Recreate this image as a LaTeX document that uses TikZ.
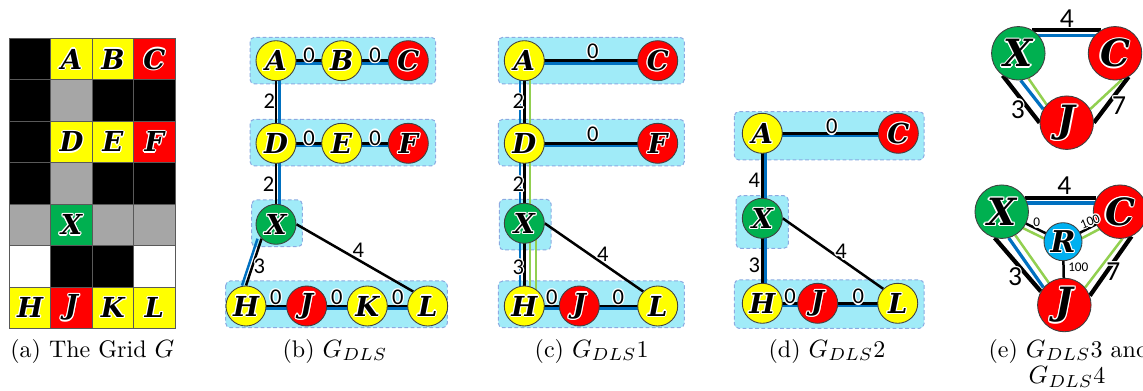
\documentclass[tikz,border=0pt]{standalone}
\usepackage{fontspec}
\newfontfamily\lf{DejaVu Serif}
\newfontfamily\nf{Carlito}
\definecolor{cy}{RGB}{160,235,248}
\definecolor{cyb}{RGB}{140,170,225}
\definecolor{bl}{RGB}{0,112,192}
\definecolor{gr}{RGB}{146,208,80}
\definecolor{ng}{RGB}{0,176,80}
\definecolor{ny}{RGB}{255,255,0}
\definecolor{nr}{RGB}{255,0,0}
\definecolor{nb}{RGB}{0,176,240}
\definecolor{cg}{RGB}{166,166,166}
\pgfdeclarelayer{bg}\pgfdeclarelayer{ed}\pgfsetlayers{bg,ed,main}
% white outline behind a piece of text
\newlength\hw \setlength\hw{0.5pt}
\newcommand\halo[1]{{\setbox0\hbox{#1}%
 \rlap{\color{white}\kern\hw\copy0}%
 \rlap{\color{white}\kern-\hw\copy0}%
 \rlap{\color{white}\raise\hw\copy0}%
 \rlap{\color{white}\lower\hw\copy0}%
 \rlap{\color{white}\kern.7\hw\raise.7\hw\copy0}%
 \rlap{\color{white}\kern-.7\hw\raise.7\hw\copy0}%
 \rlap{\color{white}\kern.7\hw\lower.7\hw\copy0}%
 \rlap{\color{white}\kern-.7\hw\lower.7\hw\copy0}%
 \box0}}
\begin{document}
\begin{tikzpicture}[x=0.4pt,y=-0.4pt,
  lfont/.style={font=\lf\bfseries\itshape\fontsize{#1}{#1}\selectfont},
  vtx/.style={circle, draw=black!75, line width=0.35pt, minimum size=16pt, inner sep=0pt, lfont=11},
  bigv/.style={minimum size=21.4pt, lfont=15},
  midv/.style={minimum size=15.2pt, lfont=12},
  gl/.style={inner sep=0pt, lfont=11},
  ek/.style={line width=1pt, black},
  eb/.style={line width=1pt, bl},
  eg/.style={line width=0.8pt, gr},
  wl/.style={inner sep=0pt, font=\nf\fontsize{9}{9}\selectfont},
  wlb/.style={inner sep=0pt, font=\nf\fontsize{11}{11}\selectfont},
  wls/.style={inner sep=0pt, font=\nf\fontsize{5.3}{5.3}\selectfont},
  grp/.style={fill=cy, draw=cyb, dash pattern=on 1.5pt off 1pt, line width=0.4pt, rounded corners=1.8pt},
  captxt/.style={inner sep=0pt, anchor=base, font=\fontsize{9.6}{10.7}\selectfont}]
\useasboundingbox (0,0) rectangle (1143,391);

% ---------- (a) the grid ----------
\foreach \r/\c/\col in {0/0/black,0/1/ny,0/2/ny,0/3/nr, 1/0/black,1/1/cg,1/2/black,1/3/black,
  2/0/black,2/1/ny,2/2/ny,2/3/nr, 3/0/black,3/1/cg,3/2/black,3/3/black,
  4/0/cg,4/1/ng,4/2/cg,4/3/cg, 5/0/white,5/1/black,5/2/black,5/3/white,
  6/0/ny,6/1/nr,6/2/ny,6/3/ny}
  \filldraw[fill=\col, draw=black!65, line width=0.3pt]
    ({9.3+\c*41.43},{38.3+\r*41.43}) rectangle ++(41.43,41.43);
\foreach \r/\c/\t in {0/1/A,0/2/B,0/3/C,2/1/D,2/2/E,2/3/F,4/1/X,6/0/H,6/1/J,6/2/K,6/3/L}
  \node[gl] (g\t) at ({9.3+(\c+0.5)*41.43},{38.3+(\r+0.5)*41.43}) {\halo{\t}};

% ---------- (b) G_DLS ----------
\begin{pgfonlayer}{bg}
  \draw[grp] (250,37.3) rectangle (435.7,84);
  \draw[grp] (250,119.3) rectangle (435.7,166);
  \draw[grp] (251.7,200) rectangle (302.3,246.7);
  \draw[grp] (225.7,281) rectangle (447.3,327.7);
\end{pgfonlayer}
\node[vtx, fill=ny] (bA) at (276,60.7) {\halo{A}};
\node[vtx, fill=ny] (bB) at (341.7,60.7) {\halo{B}};
\node[vtx, fill=nr] (bC) at (408.3,60.7) {\halo{C}};
\node[vtx, fill=ny] (bD) at (276,143.3) {\halo{D}};
\node[vtx, fill=ny] (bE) at (341.7,143.3) {\halo{E}};
\node[vtx, fill=nr] (bF) at (408.3,143.3) {\halo{F}};
\node[vtx, fill=ng] (bX) at (276,224.3) {\halo{X}};
\node[vtx, fill=ny] (bH) at (246,306) {\halo{H}};
\node[vtx, fill=nr] (bJ) at (306.7,306) {\halo{J}};
\node[vtx, fill=ny] (bK) at (367.3,306) {\halo{K}};
\node[vtx, fill=ny] (bL) at (427.7,306) {\halo{L}};
\begin{pgfonlayer}{ed}
  \foreach \a/\b in {bA/bB,bB/bC,bD/bE,bE/bF,bH/bJ,bJ/bK,bK/bL}{
    \draw[eb, transform canvas={yshift=-1.05pt}] (\a.center) -- (\b.center);
    \draw[ek] (\a.center) -- (\b.center);}
  \foreach \a/\b in {bA/bD,bD/bX}{
    \draw[eb, transform canvas={xshift=1.3pt}] (\a.center) -- (\b.center);
    \draw[ek] (\a.center) -- (\b.center);}
  \draw[eb, transform canvas={xshift=-1.6pt}] (bX.225) -- (bH.north);
  \draw[ek] (bX.225) -- (bH.north);
  \draw[ek] (bX.east) -- (bL.135);
\end{pgfonlayer}
\node[wl] (b1) at (309,55) {\halo{0}};
\node[wl] (b2) at (375,55) {\halo{0}};
\node[wl] (b3) at (309,138) {\halo{0}};
\node[wl] (b4) at (375,138) {\halo{0}};
\node[wl] (b5) at (275.7,297.3) {\halo{0}};
\node[wl] (b6) at (336.7,297.3) {\halo{0}};
\node[wl] (b7) at (397.7,297.3) {\halo{0}};
\node[wl] (b8) at (269.3,101.7) {\halo{2}};
\node[wl] (b9) at (268.5,184.5) {\halo{2}};
\node[wl] (b10) at (259.3,266) {\halo{3}};
\node[wl] (b11) at (358.3,250) {\halo{4}};

% ---------- (c) G_DLS1 ----------
\begin{pgfonlayer}{bg}
  \draw[grp] (498.3,37.3) rectangle (684.3,84);
  \draw[grp] (498.3,119.3) rectangle (684.3,166);
  \draw[grp] (499.3,199.3) rectangle (551,250);
  \draw[grp] (498.3,281) rectangle (684.3,327.7);
\end{pgfonlayer}
\node[vtx, fill=ny] (cA) at (524.3,60.7) {\halo{A}};
\node[vtx, fill=nr] (cC) at (657.7,60.7) {\halo{C}};
\node[vtx, fill=ny] (cD) at (524.3,143.3) {\halo{D}};
\node[vtx, fill=nr] (cF) at (657.7,143.3) {\halo{F}};
\node[vtx, fill=ng] (cX) at (524.3,223.3) {\halo{X}};
\node[vtx, fill=ny] (cH) at (524.3,306) {\halo{H}};
\node[vtx, fill=nr] (cJ) at (579.3,306) {\halo{J}};
\node[vtx, fill=ny] (cL) at (657.7,306) {\halo{L}};
\begin{pgfonlayer}{ed}
  \foreach \a/\b in {cA/cC,cD/cF,cH/cJ,cJ/cL}{
    \draw[eb, transform canvas={yshift=-1.05pt}] (\a.center) -- (\b.center);
    \draw[ek] (\a.center) -- (\b.center);}
  \foreach \a/\b in {cA/cD,cD/cX,cX/cH}{
    \draw[eb, transform canvas={xshift=-1.7pt}] (\a.center) -- (\b.center);
    \draw[eg, transform canvas={xshift=2.4pt}] (\a.center) -- (\b.center);
    \draw[ek] (\a.center) -- (\b.center);}
  \draw[eg, transform canvas={xshift=4.6pt}] (cX.center) -- (cH.center);
  \draw[ek] (cX.east) -- (cL.135);
\end{pgfonlayer}
\node[wl] (c1) at (592.7,51.7) {\halo{0}};
\node[wl] (c2) at (592.7,133.8) {\halo{0}};
\node[wl] (c3) at (551.7,297.3) {\halo{0}};
\node[wl] (c4) at (618.3,297.3) {\halo{0}};
\node[wl] (c5) at (518.3,101.7) {\halo{2}};
\node[wl] (c6) at (518.3,184) {\halo{2}};
\node[wl] (c7) at (518.3,267.3) {\halo{3}};
\node[wl] (c8) at (602.7,254) {\halo{4}};

% ---------- (d) G_DLS2 ----------
\begin{pgfonlayer}{bg}
  \draw[grp] (734.3,111.7) rectangle (924,160);
  \draw[grp] (736,195.7) rectangle (788.3,248.3);
  \draw[grp] (734.3,280) rectangle (924,328.3);
\end{pgfonlayer}
\node[vtx, fill=ny] (dA) at (762.3,133.3) {\halo{A}};
\node[vtx, fill=nr] (dC) at (898.3,133.3) {\halo{C}};
\node[vtx, fill=ng] (dX) at (762.3,218.3) {\halo{X}};
\node[vtx, fill=ny] (dH) at (762.3,303.3) {\halo{H}};
\node[vtx, fill=nr] (dJ) at (817.7,303.3) {\halo{J}};
\node[vtx, fill=ny] (dL) at (897.7,303.3) {\halo{L}};
\begin{pgfonlayer}{ed}
  \foreach \a/\b in {dA/dC,dH/dJ,dJ/dL}{
    \draw[eb, transform canvas={yshift=-1.05pt}] (\a.center) -- (\b.center);
    \draw[ek] (\a.center) -- (\b.center);}
  \foreach \a/\b in {dA/dX,dX/dH}{
    \draw[eb, transform canvas={xshift=1.3pt}] (\a.center) -- (\b.center);
    \draw[ek] (\a.center) -- (\b.center);}
  \draw[ek] (dX.east) -- (dL.135);
\end{pgfonlayer}
\node[wl] (d1) at (831.7,126.7) {\halo{0}};
\node[wl] (d2) at (790,296.7) {\halo{0}};
\node[wl] (d3) at (858.3,296.7) {\halo{0}};
\node[wl] (d4) at (754.3,180) {\halo{4}};
\node[wl] (d5) at (754.3,265) {\halo{3}};
\node[wl] (d6) at (841,251.7) {\halo{4}};

% ---------- (e) G_DLS3 ----------
\node[vtx, bigv, fill=ng] (eX) at (1018.3,53.3) {\halo{X}};
\node[vtx, bigv, fill=nr] (eC) at (1115,53.3) {\halo{C}};
\node[vtx, bigv, fill=nr] (eJ) at (1066.7,122.7) {\halo{J}};
\begin{pgfonlayer}{ed}
  \draw[eb, line width=1.3pt, transform canvas={yshift=-2.3pt}] (eX.60) -- (eC.120);
  \draw[ek, line width=1.7pt] (eX.60) -- (eC.120);
  \draw[ek, line width=1.7pt] (eX.235) -- (eJ.180);
  \draw[eb, line width=1.3pt] (eX.275) -- (eJ.150);
  \draw[eg, line width=1pt] (eX.292) -- (eJ.138);
  \draw[ek, line width=1.7pt] (eC.300) -- (eJ.0);
  \draw[eg, line width=1pt] (eC.285) -- (eJ.30);
\end{pgfonlayer}
\node[wlb] (e1) at (1066.7,18.3) {\halo{4}};
\node[wlb] (e2) at (1017.7,109.3) {\halo{3}};
\node[wlb] (e3) at (1119,106) {\halo{7}};

% ---------- (e) G_DLS4 ----------
\node[vtx, bigv, fill=ng] (fX) at (1001.7,211.7) {\halo{X}};
\node[vtx, bigv, fill=nr] (fC) at (1120,211.7) {\halo{C}};
\node[vtx, midv, fill=nb] (fR) at (1063,241.7) {\halo{R}};
\node[vtx, bigv, fill=nr] (fJ) at (1064.3,305) {\halo{J}};
\begin{pgfonlayer}{ed}
  \draw[eb, line width=1.3pt, transform canvas={yshift=-2pt}] (fX.30) -- (fC.150);
  \draw[ek, line width=1.7pt] (fX.30) -- (fC.150);
  \draw[eg, line width=1pt, transform canvas={yshift=-2.4pt}] (fX.center) -- (fR.center);
  \draw[ek] (fX.center) -- (fR.center);
  \draw[eg, line width=1pt, transform canvas={yshift=-2.6pt}] (fR.center) -- (fC.center);
  \draw[ek] (fR.center) -- (fC.center);
  \draw[ek] (fR.center) -- (fJ.center);
  \draw[ek, line width=1.7pt] (fX.255) -- (fJ.150);
  \draw[eb, line width=1.3pt] (fX.285) -- (fJ.140);
  \draw[eg, line width=1pt] (fX.300) -- (fJ.125);
  \draw[ek, line width=1.7pt] (fC.295) -- (fJ.20);
  \draw[eg, line width=1pt] (fC.275) -- (fJ.40);
\end{pgfonlayer}
\node[wlb] (f1) at (1064.3,186) {\halo{4}};
\node[wlb] (f2) at (1015,276.7) {\halo{3}};
\node[wlb] (f3) at (1113.3,271.7) {\halo{7}};
\node[wls] (f4) at (1036.7,222.7) {\halo{0}};
\node[wls, rotate=22] (f5) at (1090,221.7) {\halo{100}};
\node[wls] (f6) at (1078.3,267.3) {\halo{100}};

% ---------- captions ----------
\node[captxt] (ca) at (92.3,357) {(a) The Grid $G$};
\node[captxt] (cb) at (335,357) {(b) $G_{DLS}$};
\node[captxt] (cc) at (591.7,357) {(c) $G_{DLS}$1};
\node[captxt] (cd) at (827,357) {(d) $G_{DLS}$2};
\node[captxt] (ce1) at (1069,357) {(e) $G_{DLS}$3 and};
\node[captxt] (ce2) at (1067,383.7) {$G_{DLS}$4};
\end{tikzpicture}
\end{document}
